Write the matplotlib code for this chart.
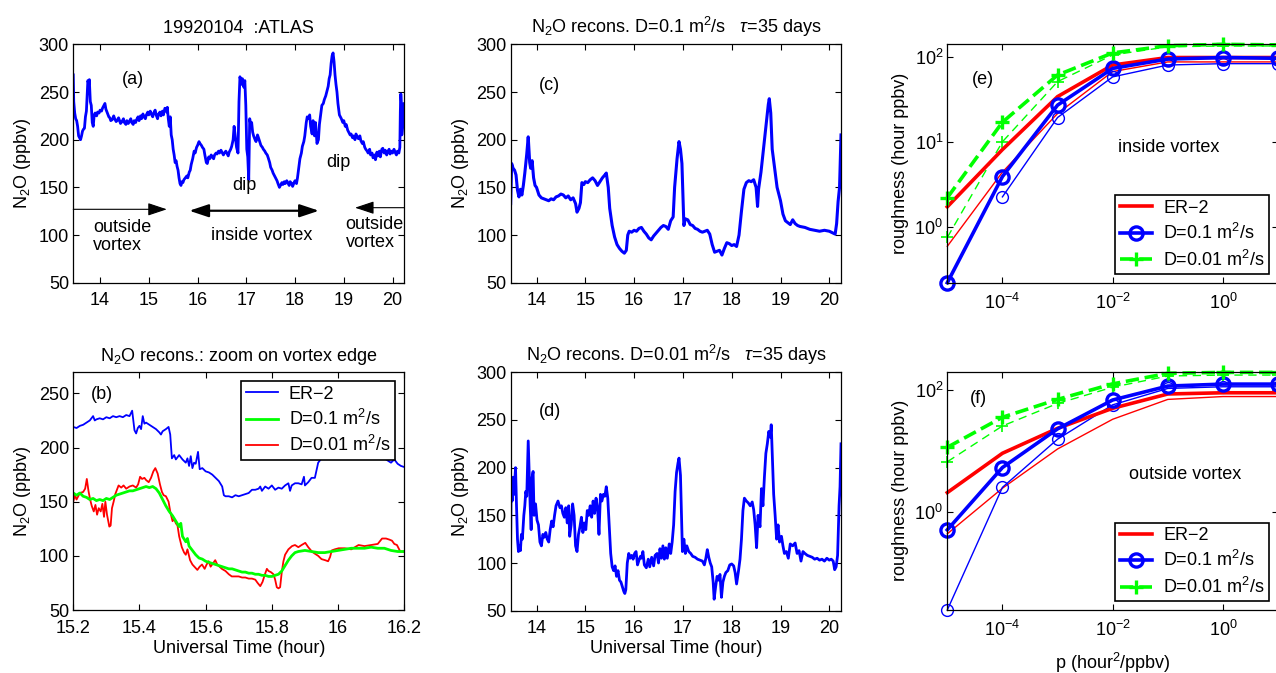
import numpy as np
import matplotlib.pyplot as plt
from matplotlib.ticker import FixedLocator, NullLocator

plt.rcParams['font.family'] = 'Liberation Sans'
plt.rcParams['mathtext.fontset'] = 'custom'
plt.rcParams['mathtext.rm'] = 'Liberation Sans'
plt.rcParams['mathtext.it'] = 'Liberation Sans:italic'
plt.rcParams['font.size'] = 13
plt.rcParams['axes.linewidth'] = 0.9

# (a) ER-2 / ATLAS N2O, hora UT -> ppbv
ATLAS = [
    (13.45, 268), (13.46, 240), (13.48, 228), (13.50, 222), (13.52, 220), (13.54, 214),
    (13.56, 204), (13.58, 202), (13.60, 200), (13.62, 204), (13.64, 209), (13.66, 211),
    (13.68, 212), (13.70, 224), (13.72, 230), (13.74, 252), (13.75, 262), (13.77, 258),
    (13.78, 263), (13.80, 240), (13.82, 236), (13.84, 218), (13.86, 214), (13.88, 226),
    (13.90, 228), (13.93, 225), (13.95, 229), (13.98, 228), (14.00, 231), (14.03, 230),
    (14.05, 233), (14.08, 236), (14.10, 238), (14.12, 232), (14.15, 228), (14.18, 224),
    (14.20, 223), (14.22, 220), (14.25, 221), (14.28, 225), (14.30, 222), (14.33, 219),
    (14.35, 220), (14.38, 223), (14.40, 220), (14.42, 217), (14.45, 219), (14.48, 222),
    (14.50, 218), (14.53, 216), (14.55, 220), (14.58, 217), (14.60, 219), (14.63, 222),
    (14.65, 218), (14.68, 216), (14.70, 220), (14.73, 218), (14.75, 221), (14.78, 224),
    (14.80, 220), (14.83, 225), (14.85, 222), (14.88, 227), (14.90, 224), (14.93, 222),
    (14.95, 226), (14.98, 229), (15.00, 226), (15.03, 230), (15.05, 227), (15.08, 224),
    (15.10, 228), (15.13, 231), (15.15, 226), (15.18, 222), (15.20, 227), (15.23, 229),
    (15.25, 225), (15.28, 230), (15.30, 226), (15.33, 233), (15.35, 232), (15.37, 229),
    (15.38, 234), (15.40, 222), (15.42, 214), (15.44, 224), (15.46, 205), (15.48, 200),
    (15.50, 190), (15.52, 184), (15.54, 176), (15.56, 178), (15.58, 172), (15.60, 168),
    (15.62, 160), (15.64, 154), (15.66, 152), (15.68, 156), (15.70, 155), (15.72, 158),
    (15.75, 160), (15.78, 162), (15.80, 160), (15.83, 166), (15.85, 168), (15.87, 174),
    (15.90, 180), (15.93, 188), (15.95, 186), (15.98, 192), (16.00, 194), (16.03, 198),
    (16.05, 196), (16.08, 194), (16.10, 192), (16.13, 190), (16.15, 184), (16.18, 176),
    (16.20, 175), (16.23, 182), (16.25, 180), (16.28, 184), (16.30, 182), (16.33, 180),
    (16.35, 184), (16.38, 186), (16.40, 185), (16.43, 188), (16.45, 186), (16.48, 189),
    (16.50, 187), (16.53, 184), (16.55, 186), (16.58, 188), (16.60, 186), (16.63, 183),
    (16.65, 187), (16.68, 190), (16.70, 193), (16.73, 200), (16.75, 214), (16.77, 205),
    (16.80, 192), (16.83, 186), (16.85, 240), (16.87, 266), (16.90, 258), (16.92, 264),
    (16.95, 255), (16.97, 262), (16.99, 236), (17.01, 190), (17.03, 182), (17.05, 158),
    (17.07, 222), (17.09, 216), (17.11, 218), (17.13, 208), (17.15, 204), (17.18, 200),
    (17.20, 198), (17.23, 205), (17.25, 202), (17.28, 197), (17.30, 194), (17.33, 192),
    (17.35, 190), (17.38, 188), (17.40, 186), (17.43, 184), (17.45, 181), (17.48, 176),
    (17.50, 171), (17.53, 168), (17.55, 165), (17.58, 162), (17.60, 160), (17.63, 157),
    (17.65, 154), (17.68, 150), (17.70, 152), (17.73, 155), (17.75, 153), (17.78, 156),
    (17.80, 154), (17.83, 157), (17.85, 155), (17.88, 152), (17.90, 156), (17.93, 154),
    (17.95, 151), (17.98, 155), (18.00, 157), (18.03, 154), (18.05, 160), (18.08, 172),
    (18.10, 180), (18.13, 186), (18.15, 193), (18.18, 198), (18.20, 204), (18.23, 218),
    (18.25, 224), (18.28, 222), (18.30, 226), (18.32, 214), (18.35, 206), (18.37, 220),
    (18.40, 204), (18.42, 218), (18.45, 196), (18.48, 200), (18.50, 216), (18.53, 228),
    (18.55, 236), (18.58, 238), (18.60, 242), (18.63, 246), (18.66, 252), (18.68, 256),
    (18.70, 264), (18.72, 268), (18.74, 280), (18.76, 288), (18.78, 291), (18.80, 282),
    (18.82, 268), (18.84, 258), (18.86, 250), (18.88, 238), (18.91, 226), (18.93, 224),
    (18.95, 222), (18.98, 218), (19.00, 220), (19.03, 214), (19.05, 216), (19.08, 210),
    (19.10, 208), (19.13, 205), (19.15, 206), (19.18, 202), (19.20, 204), (19.23, 200),
    (19.25, 206), (19.28, 203), (19.30, 201), (19.33, 204), (19.35, 199), (19.38, 196),
    (19.40, 198), (19.43, 192), (19.45, 190), (19.48, 188), (19.50, 186), (19.53, 190),
    (19.55, 184), (19.58, 186), (19.60, 181), (19.63, 184), (19.65, 179), (19.68, 187),
    (19.70, 183), (19.73, 188), (19.75, 182), (19.78, 190), (19.80, 191), (19.83, 186),
    (19.85, 189), (19.88, 184), (19.90, 187), (19.93, 190), (19.95, 185), (19.98, 188),
    (20.00, 186), (20.03, 190), (20.05, 187), (20.08, 184), (20.10, 188), (20.13, 186),
    (20.15, 192), (20.16, 230), (20.17, 248), (20.18, 240), (20.19, 205), (20.21, 215),
    (20.23, 238), (20.24, 228),
]

# (b) zoom na borda do vortice
ER2_ZOOM = [
    (15.200, 219), (15.210, 218), (15.220, 220), (15.230, 221), (15.240, 223), (15.250, 225),
    (15.260, 229), (15.265, 225), (15.270, 226), (15.280, 227), (15.290, 226), (15.300, 228),
    (15.310, 227), (15.320, 229), (15.330, 228), (15.340, 229), (15.350, 228), (15.360, 230),
    (15.370, 229), (15.378, 234), (15.385, 216), (15.390, 213), (15.395, 218), (15.400, 220),
    (15.405, 217), (15.410, 229), (15.415, 222), (15.420, 223), (15.430, 221), (15.440, 219),
    (15.450, 217), (15.460, 214), (15.465, 212), (15.470, 215), (15.480, 217), (15.488, 219),
    (15.493, 212), (15.498, 190), (15.505, 193), (15.510, 189), (15.520, 193), (15.530, 189),
    (15.540, 186), (15.545, 190), (15.550, 183), (15.555, 192), (15.560, 181), (15.565, 186),
    (15.570, 185), (15.577, 196), (15.582, 180), (15.590, 181), (15.600, 178), (15.610, 177),
    (15.620, 175), (15.630, 172), (15.640, 169), (15.650, 164), (15.655, 156), (15.660, 155),
    (15.670, 155), (15.680, 154), (15.690, 156), (15.700, 155), (15.710, 156), (15.720, 157),
    (15.730, 158), (15.740, 161), (15.750, 161), (15.760, 162), (15.765, 164), (15.770, 160),
    (15.780, 164), (15.790, 162), (15.800, 165), (15.810, 161), (15.820, 163), (15.830, 162),
    (15.840, 165), (15.850, 167), (15.855, 160), (15.860, 165), (15.870, 167), (15.880, 167),
    (15.890, 166), (15.897, 173), (15.900, 165), (15.910, 168), (15.920, 172), (15.930, 172),
    (15.940, 186), (15.950, 190), (15.960, 191), (15.970, 192), (15.980, 193), (16.000, 192),
    (16.050, 194), (16.100, 193), (16.140, 190), (16.150, 188), (16.160, 186), (16.170, 189),
    (16.180, 185), (16.190, 183), (16.200, 182),
]

RECONS_D01_ZOOM = [
    (15.200, 158), (15.210, 156), (15.220, 158), (15.230, 155), (15.240, 154), (15.250, 152),
    (15.260, 153), (15.270, 151), (15.280, 152), (15.290, 151), (15.300, 153), (15.310, 152),
    (15.320, 154), (15.330, 156), (15.340, 157), (15.350, 158), (15.360, 159), (15.370, 160),
    (15.380, 160), (15.390, 161), (15.400, 162), (15.410, 163), (15.420, 164), (15.430, 163),
    (15.440, 164), (15.450, 162), (15.460, 158), (15.470, 152), (15.480, 146), (15.490, 141),
    (15.500, 137), (15.510, 132), (15.520, 127), (15.525, 130), (15.530, 118), (15.540, 113),
    (15.545, 116), (15.550, 109), (15.560, 105), (15.570, 101), (15.580, 98), (15.590, 97),
    (15.600, 95), (15.610, 94), (15.620, 93), (15.630, 92), (15.640, 91), (15.650, 90),
    (15.660, 89), (15.670, 88), (15.680, 88), (15.690, 87), (15.700, 86), (15.710, 85),
    (15.720, 85), (15.730, 84), (15.740, 84), (15.750, 83), (15.760, 83), (15.770, 82),
    (15.780, 82), (15.790, 81), (15.800, 81), (15.810, 82), (15.820, 83), (15.830, 86),
    (15.840, 91), (15.850, 96), (15.860, 100), (15.870, 103), (15.880, 104), (15.900, 105),
    (15.920, 104), (15.940, 103), (15.960, 103), (15.980, 104), (16.000, 105), (16.020, 106),
    (16.040, 107), (16.060, 107), (16.080, 107), (16.100, 108), (16.120, 107), (16.140, 107),
    (16.160, 105), (16.180, 104), (16.200, 104),
]

RECONS_D001_ZOOM = [
    (15.200, 150), (15.205, 156), (15.210, 152), (15.215, 155), (15.220, 158), (15.230, 159),
    (15.236, 162), (15.241, 171), (15.246, 160), (15.251, 152), (15.256, 146), (15.262, 141),
    (15.267, 147), (15.272, 138), (15.277, 144), (15.283, 141), (15.288, 148), (15.293, 136),
    (15.297, 150), (15.302, 138), (15.309, 127), (15.313, 128), (15.317, 144), (15.322, 150),
    (15.327, 157), (15.332, 161), (15.337, 165), (15.345, 163), (15.352, 165), (15.360, 162),
    (15.370, 164), (15.380, 165), (15.390, 163), (15.396, 166), (15.402, 173), (15.408, 171),
    (15.415, 172), (15.420, 170), (15.428, 168), (15.435, 172), (15.442, 178), (15.448, 181),
    (15.455, 176), (15.462, 166), (15.468, 159), (15.473, 156), (15.480, 155), (15.488, 150),
    (15.493, 141), (15.500, 132), (15.505, 134), (15.510, 130), (15.515, 128), (15.520, 118),
    (15.528, 108), (15.535, 103), (15.540, 101), (15.545, 106), (15.553, 96), (15.560, 92),
    (15.569, 89), (15.575, 87), (15.582, 90), (15.589, 92), (15.597, 88), (15.603, 92),
    (15.609, 95), (15.615, 90), (15.622, 93), (15.629, 96), (15.635, 92), (15.642, 90),
    (15.649, 88), (15.660, 86), (15.670, 83), (15.679, 81), (15.690, 81), (15.700, 81),
    (15.710, 80), (15.720, 80), (15.730, 79), (15.740, 79), (15.750, 78), (15.757, 75),
    (15.765, 72), (15.772, 76), (15.778, 82), (15.785, 88), (15.790, 86), (15.797, 85),
    (15.805, 83), (15.810, 78), (15.815, 71), (15.820, 70), (15.825, 71), (15.830, 85),
    (15.835, 95), (15.840, 101), (15.850, 106), (15.861, 109), (15.870, 110), (15.880, 108),
    (15.890, 110), (15.901, 112), (15.910, 108), (15.921, 104), (15.930, 102), (15.940, 100),
    (15.950, 97), (15.961, 96), (15.970, 95), (15.976, 99), (15.981, 105), (15.990, 106),
    (16.002, 107), (16.020, 107), (16.040, 106), (16.062, 110), (16.080, 109), (16.100, 110),
    (16.120, 111), (16.133, 116), (16.145, 116), (16.155, 115), (16.163, 114), (16.170, 111),
    (16.178, 110), (16.188, 104), (16.200, 104),
]

# (c) reconstrucao D=0.1
RECONS_D01 = [
    (13.47, 133), (13.49, 175), (13.52, 170), (13.55, 168), (13.58, 163), (13.61, 147),
    (13.64, 140), (13.67, 148), (13.70, 142), (13.73, 152), (13.76, 165), (13.80, 185),
    (13.83, 203), (13.86, 176), (13.88, 170), (13.91, 178), (13.94, 160), (13.97, 152),
    (14.00, 150), (14.05, 142), (14.10, 139), (14.15, 138), (14.20, 137), (14.25, 136),
    (14.30, 138), (14.35, 137), (14.40, 140), (14.45, 141), (14.50, 143), (14.55, 142),
    (14.60, 139), (14.65, 141), (14.70, 137), (14.75, 139), (14.80, 133), (14.83, 124),
    (14.87, 128), (14.90, 134), (14.93, 155), (14.97, 153), (15.00, 156), (15.05, 155),
    (15.10, 158), (15.15, 160), (15.20, 157), (15.25, 152), (15.30, 156), (15.35, 160),
    (15.40, 163), (15.43, 165), (15.47, 150), (15.50, 128), (15.55, 110), (15.60, 98),
    (15.65, 90), (15.70, 86), (15.75, 83), (15.80, 81), (15.84, 84), (15.87, 100),
    (15.90, 104), (15.95, 103), (16.00, 105), (16.05, 104), (16.10, 107), (16.15, 108),
    (16.20, 104), (16.25, 101), (16.30, 97), (16.35, 95), (16.40, 99), (16.45, 102),
    (16.50, 105), (16.55, 108), (16.60, 110), (16.65, 109), (16.70, 106), (16.75, 115),
    (16.80, 119), (16.83, 150), (16.88, 180), (16.92, 198), (16.95, 190), (16.98, 175),
    (17.02, 110), (17.05, 117), (17.10, 116), (17.15, 111), (17.20, 110), (17.25, 107),
    (17.30, 106), (17.35, 104), (17.40, 103), (17.45, 104), (17.50, 105), (17.55, 101),
    (17.60, 90), (17.65, 82), (17.70, 83), (17.75, 84), (17.80, 79), (17.85, 86),
    (17.90, 92), (17.95, 91), (18.00, 89), (18.05, 90), (18.10, 88), (18.15, 100),
    (18.20, 125), (18.25, 148), (18.30, 155), (18.35, 157), (18.40, 156), (18.45, 158),
    (18.50, 150), (18.53, 130), (18.55, 148), (18.60, 166), (18.65, 190), (18.70, 215),
    (18.75, 237), (18.77, 243), (18.80, 228), (18.83, 190), (18.88, 170), (18.93, 150),
    (19.00, 136), (19.05, 122), (19.10, 115), (19.15, 113), (19.20, 111), (19.25, 116),
    (19.30, 112), (19.35, 110), (19.40, 109), (19.50, 108), (19.60, 106), (19.70, 105),
    (19.80, 104), (19.90, 105), (20.00, 104), (20.08, 102), (20.12, 101), (20.15, 112),
    (20.18, 135), (20.21, 150), (20.24, 205),
]

# (d) reconstrucao D=0.01
RECONS_D001 = [
    (13.47, 120), (13.48, 185), (13.50, 165), (13.52, 190), (13.54, 172), (13.57, 200),
    (13.59, 160), (13.61, 125), (13.63, 112), (13.65, 118), (13.67, 113), (13.69, 130),
    (13.71, 125), (13.74, 150), (13.76, 160), (13.78, 175), (13.80, 170), (13.83, 228),
    (13.85, 195), (13.87, 160), (13.89, 135), (13.91, 190), (13.93, 196), (13.95, 150),
    (13.98, 162), (14.01, 145), (14.04, 140), (14.07, 122), (14.10, 118), (14.13, 130),
    (14.16, 127), (14.19, 132), (14.22, 125), (14.25, 122), (14.28, 135), (14.31, 144),
    (14.34, 138), (14.37, 150), (14.40, 160), (14.44, 165), (14.48, 158), (14.51, 160),
    (14.54, 152), (14.57, 148), (14.60, 158), (14.63, 142), (14.66, 160), (14.68, 128),
    (14.71, 140), (14.74, 162), (14.77, 150), (14.80, 118), (14.83, 112), (14.86, 130),
    (14.89, 138), (14.92, 148), (14.95, 132), (14.98, 142), (15.01, 135), (15.04, 155),
    (15.07, 150), (15.10, 160), (15.13, 148), (15.16, 165), (15.19, 152), (15.22, 168),
    (15.25, 158), (15.28, 130), (15.31, 172), (15.34, 165), (15.37, 172), (15.40, 170),
    (15.43, 180), (15.46, 168), (15.49, 140), (15.52, 110), (15.55, 96), (15.58, 92),
    (15.61, 97), (15.64, 86), (15.67, 92), (15.70, 82), (15.73, 80), (15.76, 75),
    (15.79, 70), (15.81, 68), (15.83, 72), (15.86, 100), (15.89, 110), (15.92, 105),
    (15.95, 108), (15.98, 104), (16.01, 110), (16.04, 112), (16.07, 98), (16.10, 103),
    (16.13, 107), (16.15, 105), (16.18, 112), (16.21, 98), (16.25, 95), (16.29, 104),
    (16.32, 96), (16.36, 106), (16.40, 97), (16.43, 108), (16.47, 110), (16.50, 100),
    (16.53, 115), (16.56, 105), (16.59, 118), (16.62, 104), (16.65, 116), (16.68, 105),
    (16.72, 120), (16.75, 110), (16.78, 122), (16.81, 140), (16.84, 175), (16.87, 195),
    (16.90, 205), (16.92, 210), (16.95, 192), (16.97, 150), (16.99, 112), (17.02, 125),
    (17.05, 110), (17.08, 118), (17.12, 112), (17.16, 110), (17.20, 107), (17.25, 106),
    (17.30, 104), (17.35, 103), (17.40, 102), (17.44, 98), (17.47, 105), (17.50, 114),
    (17.53, 106), (17.56, 100), (17.59, 96), (17.62, 80), (17.64, 62), (17.67, 75),
    (17.70, 86), (17.73, 82), (17.76, 88), (17.79, 64), (17.82, 80), (17.85, 86),
    (17.88, 90), (17.92, 92), (17.96, 98), (18.00, 99), (18.04, 97), (18.07, 90),
    (18.10, 78), (18.14, 92), (18.17, 104), (18.20, 125), (18.23, 155), (18.26, 168),
    (18.30, 165), (18.34, 163), (18.38, 160), (18.42, 164), (18.45, 156), (18.48, 140),
    (18.51, 116), (18.54, 150), (18.58, 138), (18.61, 178), (18.64, 160), (18.67, 190),
    (18.70, 215), (18.73, 225), (18.76, 238), (18.79, 232), (18.81, 245), (18.84, 200),
    (18.86, 172), (18.89, 150), (18.92, 125), (18.95, 140), (18.98, 122), (19.02, 128),
    (19.05, 118), (19.08, 110), (19.12, 112), (19.16, 105), (19.20, 120), (19.25, 118),
    (19.30, 121), (19.34, 110), (19.38, 113), (19.42, 102), (19.46, 112), (19.50, 110),
    (19.55, 108), (19.60, 107), (19.65, 106), (19.70, 104), (19.75, 105), (19.80, 103),
    (19.85, 104), (19.90, 102), (19.95, 105), (20.00, 103), (20.04, 104), (20.08, 102),
    (20.11, 93), (20.14, 96), (20.17, 108), (20.20, 160), (20.22, 180), (20.24, 225),
]

# (e)/(f) rugosidade x p
P_VALS = [1e-5, 1e-4, 1e-3, 1e-2, 1e-1, 1e0, 1e1]
NAN = float('nan')

ER2_IN_GROSSO = [1.72, 8.1, 34, 80, 98, 98, 98]
ER2_IN_FINO = [0.59, 4.4, 21.5, 67, 87, 87, 87]
D01_IN_GROSSO = [0.22, 3.9, 27, 73, 94, 98, 96]
D01_IN_FINO = [NAN, 2.25, 19.3, 58, 80, 83, 83]
D001_IN_GROSSO = [2.2, 17, 61, 111, 135, 140, 138]
D001_IN_FINO = [0.75, 10, 51, 105, 131, 134, 134]

ER2_OUT_GROSSO = [2.05, 9.1, 23.4, 50, 86, 90, 90]
ER2_OUT_FINO = [0.43, 2.42, 10.7, 33, 70, 78, 78]
D01_OUT_GROSSO = [0.5, 5.3, 22.9, 68.5, 116, 125, 125]
D01_OUT_FINO = [0.024, 2.5, 15.5, 57, 106, 113, 113]
D001_OUT_GROSSO = [11.4, 35.6, 70, 126, 188, 195, 195]
D001_OUT_FINO = [6.6, 25.6, 60, 111, 170, 176, 176]

HORAS_TICKS = [14, 15, 16, 17, 18, 19, 20]
ZOOM_TICKS = [15.2, 15.4, 15.6, 15.8, 16.0, 16.2]
ZOOM_LABELS = ['15.2', '15.4', '15.6', '15.8', '16', '16.2']

AZUL = (0, 0, 1)
VERDE = (0, 1, 0)
VERMELHO = (1, 0, 0)
N2O = 'N$_2$O (ppbv)'
FS = 13


def estilo(ax):
    ax.tick_params(direction='in', top=True, right=True, length=4, width=0.8,
                   labelsize=FS)
    ax.tick_params(axis='x', pad=7)
    ax.tick_params(axis='y', pad=3)


def legenda(ax, handles, labels, **kw):
    leg = ax.legend(handles, labels, fancybox=False, framealpha=1, edgecolor='black',
                    fontsize=FS, handlelength=1.8, handletextpad=0.6, borderaxespad=0,
                    borderpad=0.25, labelspacing=0.35, **kw)
    leg.get_frame().set_linewidth(1.2)
    return leg


fig = plt.figure(figsize=(12.76, 6.73), dpi=100)

ax_a = fig.add_axes([0.0574, 0.5799, 0.2594, 0.3542])
ax_b = fig.add_axes([0.0574, 0.0936, 0.2594, 0.3541])
ax_c = fig.add_axes([0.4002, 0.5799, 0.2589, 0.3542])
ax_d = fig.add_axes([0.4002, 0.0926, 0.2589, 0.3542])
ax_e = fig.add_axes([0.7424, 0.5799, 0.2592, 0.3542])
ax_f = fig.add_axes([0.7424, 0.0936, 0.2592, 0.3541])

# ---- (a)
t, v = zip(*ATLAS)
ax_a.plot(t, v, color=AZUL, lw=2.0)
ax_a.set_xlim(13.45, 20.24)
ax_a.set_ylim(50, 300)
ax_a.set_xticks(HORAS_TICKS)
ax_a.set_yticks(range(50, 301, 50))
ax_a.set_ylabel(N2O, labelpad=4)
ax_a.set_title('19920104  :ATLAS', fontsize=FS, pad=8)
ax_a.text(0.18, 0.854, '(a)', transform=ax_a.transAxes, ha='center', va='center')
ax_a.annotate('', xy=(15.37, 127), xytext=(13.45, 127),
              arrowprops=dict(arrowstyle='-|>,head_length=0.9,head_width=0.3',
                              color='black', lw=0.8, shrinkA=0, shrinkB=0))
ax_a.annotate('', xy=(18.49, 125.5), xytext=(15.83, 125.5),
              arrowprops=dict(arrowstyle='<|-|>,head_length=0.9,head_width=0.3',
                              color='black', lw=1.6, shrinkA=0, shrinkB=0))
ax_a.annotate('', xy=(19.23, 128.7), xytext=(20.24, 128.7),
              arrowprops=dict(arrowstyle='-|>,head_length=0.9,head_width=0.3',
                              color='black', lw=0.8, shrinkA=0, shrinkB=0))
ax_a.text(13.86, 117, 'outside\nvortex', ha='left', va='top', linespacing=1.1)
ax_a.text(19.04, 120, 'outside\nvortex', ha='left', va='top', linespacing=1.1)
ax_a.text(17.31, 100, 'inside vortex', ha='center', va='center')
ax_a.text(16.96, 152, 'dip', ha='center', va='center')
ax_a.text(18.88, 176, 'dip', ha='center', va='center')
estilo(ax_a)

# ---- (b)
t, v = zip(*ER2_ZOOM)
l_er2, = ax_b.plot(t, v, color=AZUL, lw=1.3)
t, v = zip(*RECONS_D01_ZOOM)
l_d01, = ax_b.plot(t, v, color=VERDE, lw=2.0)
t, v = zip(*RECONS_D001_ZOOM)
l_d001, = ax_b.plot(t, v, color=VERMELHO, lw=1.3, zorder=1.9)
ax_b.set_xlim(15.2, 16.2)
ax_b.set_ylim(50, 270)
ax_b.set_xticks(ZOOM_TICKS)
ax_b.set_xticklabels(ZOOM_LABELS)
ax_b.set_yticks(range(50, 251, 50))
ax_b.set_ylabel(N2O, labelpad=4)
ax_b.set_xlabel('Universal Time (hour)', labelpad=2)
ax_b.set_title('N$_2$O recons.: zoom on vortex edge', fontsize=FS, pad=8)
ax_b.text(0.086, 0.905, '(b)', transform=ax_b.transAxes, ha='center', va='center')
legenda(ax_b, [l_er2, l_d01, l_d001], ['ER\u22122', 'D=0.1 m$^2$/s', 'D=0.01 m$^2$/s'],
        loc='upper right', bbox_to_anchor=(0.972, 0.961))
estilo(ax_b)

# ---- (c)
t, v = zip(*RECONS_D01)
ax_c.plot(t, v, color=AZUL, lw=2.2)
ax_c.set_xlim(13.47, 20.24)
ax_c.set_ylim(50, 300)
ax_c.set_xticks(HORAS_TICKS)
ax_c.set_yticks(range(50, 301, 50))
ax_c.set_ylabel(N2O, labelpad=4)
ax_c.set_title('N$_2$O recons. D=0.1 m$^2$/s   $\\tau$=35 days', fontsize=FS, pad=8)
ax_c.text(0.117, 0.829, '(c)', transform=ax_c.transAxes, ha='center', va='center')
estilo(ax_c)

# ---- (d)
t, v = zip(*RECONS_D001)
ax_d.plot(t, v, color=AZUL, lw=2.0)
ax_d.set_xlim(13.47, 20.24)
ax_d.set_ylim(50, 300)
ax_d.set_xticks(HORAS_TICKS)
ax_d.set_yticks(range(50, 301, 50))
ax_d.set_ylabel(N2O, labelpad=4)
ax_d.set_xlabel('Universal Time (hour)', labelpad=2)
ax_d.set_title('N$_2$O recons. D=0.01 m$^2$/s   $\\tau$=35 days', fontsize=FS, pad=8)
ax_d.text(0.119, 0.835, '(d)', transform=ax_d.transAxes, ha='center', va='center')
estilo(ax_d)


def rugosidade(ax, er2_g, er2_f, d01_g, d01_f, d001_g, d001_f, ylim, yticks):
    ax.set_xscale('log')
    ax.set_yscale('log')
    ax.plot(P_VALS, er2_f, color=VERMELHO, lw=1.0, clip_on=False)
    ax.plot(P_VALS, d01_f, color=AZUL, lw=1.0, marker='o', ms=8.5, mfc='none',
            mew=1.0, clip_on=False)
    ax.plot(P_VALS, d001_f, color=VERDE, lw=1.0, ls=(0, (6, 4)), marker='+', ms=9,
            mew=1.2, clip_on=False)
    l1, = ax.plot(P_VALS, er2_g, color=VERMELHO, lw=2.6, clip_on=False)
    l2, = ax.plot(P_VALS, d01_g, color=AZUL, lw=2.6, marker='o', ms=9.5, mfc='none',
                  mew=2.4, clip_on=False)
    l3, = ax.plot(P_VALS, d001_g, color=VERDE, lw=2.6, ls='--', marker='+', ms=10,
                  mew=2.4, clip_on=False)
    ax.set_xlim(1e-5, 1e1)
    ax.set_ylim(*ylim)
    ax.xaxis.set_major_locator(FixedLocator([1e-4, 1e-2, 1e0]))
    ax.yaxis.set_major_locator(FixedLocator(yticks))
    ax.xaxis.set_minor_locator(NullLocator())
    ax.yaxis.set_minor_locator(NullLocator())
    ax.set_ylabel('roughness (hour ppbv)', labelpad=4)
    legenda(ax, [l1, l2, l3], ['ER\u22122', 'D=0.1 m$^2$/s', 'D=0.01 m$^2$/s'],
            loc='lower right', bbox_to_anchor=(0.973, 0.036), numpoints=1)
    estilo(ax)


rugosidade(ax_e, ER2_IN_GROSSO, ER2_IN_FINO, D01_IN_GROSSO, D01_IN_FINO,
           D001_IN_GROSSO, D001_IN_FINO, (0.22, 140), [1, 10, 100])
ax_e.text(0.108, 0.854, '(e)', transform=ax_e.transAxes, ha='center', va='center')
ax_e.text(0.669, 0.569, 'inside vortex', transform=ax_e.transAxes, ha='center',
          va='center')

rugosidade(ax_f, ER2_OUT_GROSSO, ER2_OUT_FINO, D01_OUT_GROSSO, D01_OUT_FINO,
           D001_OUT_GROSSO, D001_OUT_FINO, (0.024, 200), [1, 100])
ax_f.set_xlabel('p (hour$^2$/ppbv)', labelpad=8)
ax_f.text(0.093, 0.888, '(f)', transform=ax_f.transAxes, ha='center', va='center')
ax_f.text(0.719, 0.567, 'outside vortex', transform=ax_f.transAxes, ha='center',
          va='center')

fig.savefig('out.png', dpi=100)
